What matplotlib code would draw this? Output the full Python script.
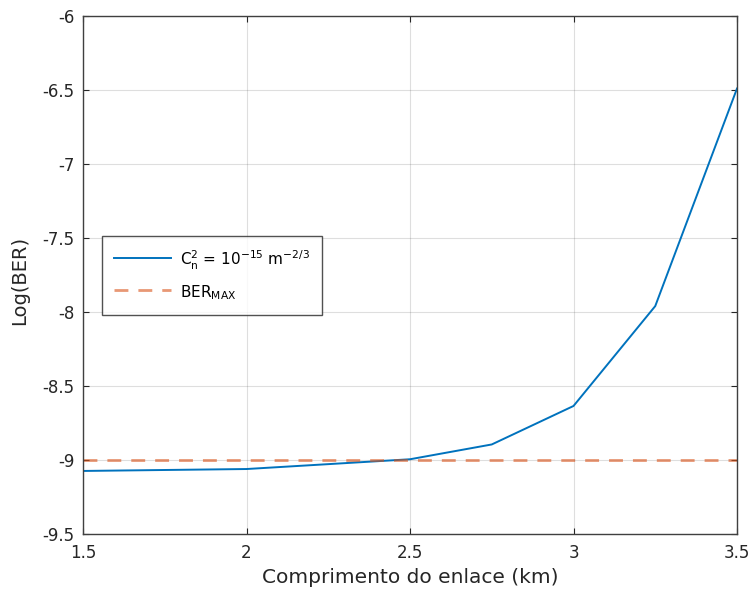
import matplotlib
matplotlib.use("Agg")
import matplotlib.pyplot as plt

plt.rcParams['font.family'] = ['DejaVu Sans']
plt.rcParams['mathtext.default'] = 'regular'
plt.rcParams['axes.unicode_minus'] = False

# Link length (km) and log10 of the bit error rate
distance_km = [1.5, 2.0, 2.5, 2.75, 3.0, 3.25, 3.5]
log_ber = [-9.074, -9.061, -8.995, -8.895, -8.635, -7.96, -6.49]
ber_max = -9.0

x_ticks = [1.5, 2, 2.5, 3, 3.5]
x_tick_labels = ['1.5', '2', '2.5', '3', '3.5']
y_ticks = [-9.5, -9, -8.5, -8, -7.5, -7, -6.5, -6]
y_tick_labels = ['-9.5', '-9', '-8.5', '-8', '-7.5', '-7', '-6.5', '-6']

ink = '#262626'

fig = plt.figure(figsize=(7.51, 5.99), dpi=100)
ax = fig.add_axes([83 / 751, 65 / 599, 654 / 751, 518 / 599])

ax.plot(distance_km, log_ber, color='#0072BD', linewidth=1.4,
        label=r'C$_n^2$ = 10$^{-15}$ m$^{-2/3}$')
ax.plot([x_ticks[0], x_ticks[-1]], [ber_max, ber_max], color='#D95319',
        linewidth=2.0, alpha=0.6, linestyle=(0, (5.0, 3.6)),
        label=r'BER$_{MAX}$')

ax.set_xlim(1.5, 3.5)
ax.set_ylim(-9.5, -6)
ax.set_xticks(x_ticks)
ax.set_xticklabels(x_tick_labels)
ax.set_yticks(y_ticks)
ax.set_yticklabels(y_tick_labels)

ax.grid(True, color=ink, alpha=0.15, linewidth=0.8)
ax.set_axisbelow(True)
ax.tick_params(direction='in', length=4, width=0.8, colors=ink,
               labelsize=12, top=True, right=True)
ax.tick_params(axis='x', pad=7)
ax.tick_params(axis='y', pad=6)
for s in ax.spines.values():
    s.set_color('#404040')
    s.set_linewidth(1.0)

ax.set_xlabel('Comprimento do enlace (km)', fontsize=14.5, color=ink)
ax.set_ylabel('Log(BER)', fontsize=14, color=ink)
ax.xaxis.set_label_coords(0.5, -0.066)
ax.yaxis.set_label_coords(-0.082, 0.49)

leg = ax.legend(loc='upper left', bbox_to_anchor=(0.029, 0.575),
                borderaxespad=0, fontsize=11, frameon=True, fancybox=False,
                edgecolor=ink, handlelength=3.7, handleheight=1.67,
                handletextpad=0.6, borderpad=0.8, labelspacing=0.72)
leg.get_frame().set_linewidth(1.0)

fig.savefig('out.png', dpi=100)
